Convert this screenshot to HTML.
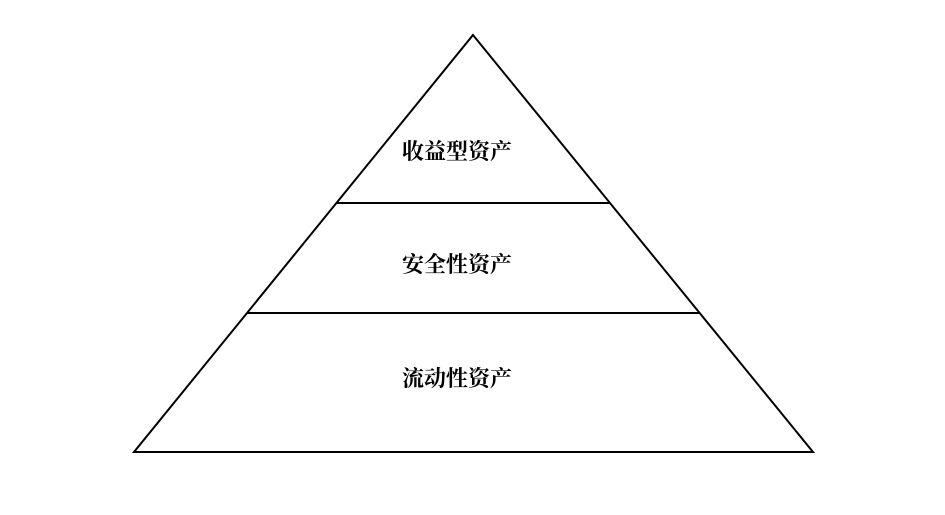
<!DOCTYPE html>
<html><head><meta charset="utf-8"><style>
html,body{margin:0;padding:0;background:#fff;width:945px;height:515px;overflow:hidden}
text{font-family:"Liberation Serif","Noto Serif CJK SC",serif;font-weight:700;font-size:22px;fill:#000}
</style></head><body>
<svg width="945" height="515" viewBox="0 0 945 515" xmlns="http://www.w3.org/2000/svg">
<polygon points="473,35 813,452 134,452" fill="#fff" stroke="#000" stroke-width="2"/>
<line x1="337" y1="203" x2="610" y2="203" stroke="#000" stroke-width="2"/>
<line x1="247" y1="313" x2="700" y2="313" stroke="#000" stroke-width="2"/>
<text x="457" y="159" text-anchor="middle">收益型资产</text>
<text x="457" y="272" text-anchor="middle">安全性资产</text>
<text x="457" y="386" text-anchor="middle">流动性资产</text>
</svg>
</body></html>
